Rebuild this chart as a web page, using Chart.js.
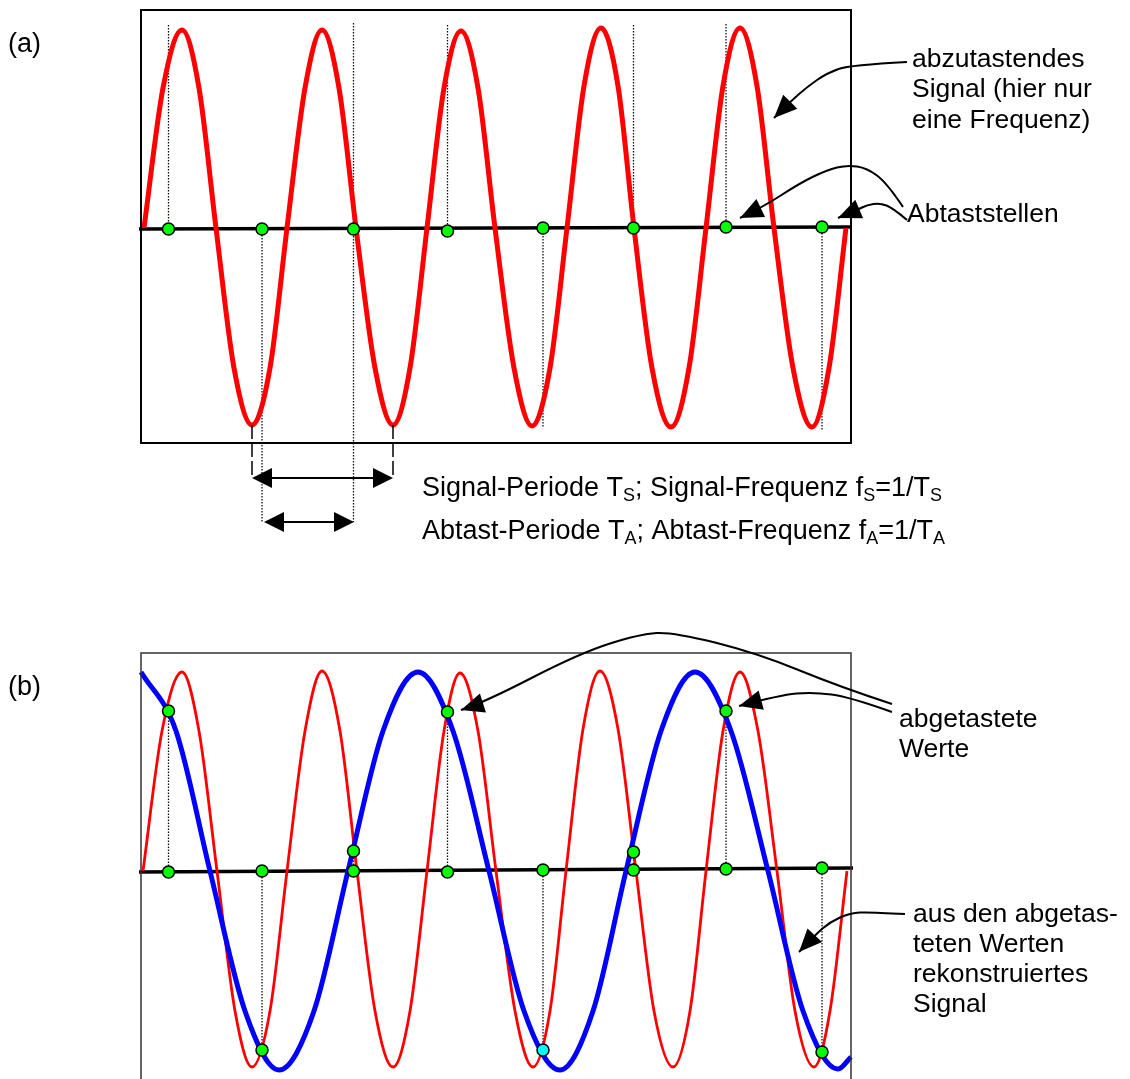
<!DOCTYPE html>
<html><head><meta charset="utf-8">
<script src="https://cdn.jsdelivr.net/npm/chart.js@4/dist/chart.umd.min.js"></script>
<style>
html,body{margin:0;padding:0;background:#fff;overflow:hidden;width:1130px;height:1079px;}
#ca{position:absolute;left:0;top:0;width:1130px;height:600px;}
#cb{position:absolute;left:0;top:600px;width:1130px;height:479px;}
</style></head><body>
<canvas id="ca" width="1130" height="600"></canvas>
<canvas id="cb" width="1130" height="479"></canvas>
<script>
// ---------- data (time in arbitrary units, amplitude normalised) ----------
const sampleTimes   = [27.5, 121, 212.5, 306.5, 402, 492.5, 585, 681];
const sampleAxisA   = [-0.005, -0.005, -0.005, -0.015, 0, 0, 0.005, 0.005];
const sampleAxisB   = [-0.005, 0, 0, -0.005, 0.005, 0.005, 0.01, 0.015];
const sampleValuesB = [0.80, -0.895, 0.10, 0.795, -0.895, 0.095, 0.80, -0.905];

const signalA_t = [3,22,41,58,75,93,111,129,146,164,181,198,215,234,252,269,286,303,320,337,354,373,391,409,426,443,460,477,493,511,530,548,565,582,599,616,633,652,671,688,705];
const signalA_v = [0,0.70,0.99,0.70,0,-0.70,-0.985,-0.70,0,0.70,0.99,0.70,0,-0.70,-0.985,-0.70,0,0.70,0.985,0.70,0,-0.70,-0.99,-0.70,0,0.71,1.0,0.71,0,-0.70,-0.995,-0.70,0,0.71,1.0,0.71,0,-0.70,-0.995,-0.70,0];

const signalB_t = [2,21,41,58,76,94,111,129,146,164,181,199,216,234,252,269,286,303,319,337,355,374,392,409,425,442,459,477,495,513,532,549,565,582,599,617,636,654,673,689,706];
const signalB_v = [0,0.70,0.995,0.70,0,-0.70,-0.98,-0.70,0,0.70,1.0,0.70,0,-0.70,-0.98,-0.70,0,0.70,0.99,0.70,0,-0.70,-0.98,-0.70,0,0.71,1.0,0.71,0,-0.70,-0.98,-0.70,0,0.70,0.995,0.70,0,-0.70,-0.98,-0.70,0];

const reconB_t = [0,35,69,104,138,173,207,242,277,312,348,383,419,452,485,520,554,590,627,662,697,710];
const reconB_v = [0.995,0.70,0,-0.70,-0.995,-0.70,0,0.70,0.995,0.70,0,-0.70,-0.995,-0.70,0,0.70,0.995,0.70,0,-0.70,-0.99,-0.93];

const axisA_t = [-2, 710], axisA_v = [-0.005, 0.005];
const axisB_t = [-2, 712], axisB_v = [-0.005, 0.015];

const dottedTopA = [1.015, -0.005, 1.025, 1.015, -0.01, 1.015, 1.02, 0.005];
const dottedBotA = [-0.005, -1.47, -1.47, -0.015, -0.995, 0, 0.005, -1.01];

// ---------- helpers ----------
const FONT = '"Liberation Sans", Arial, sans-serif';
function P(chart, x, y){ return [chart.scales.x.getPixelForValue(x), chart.scales.y.getPixelForValue(y)]; }
function head(ctx, tip, from, L, W){
  const a = Math.atan2(tip[1]-from[1], tip[0]-from[0]);
  ctx.save(); ctx.translate(tip[0], tip[1]); ctx.rotate(a);
  ctx.beginPath(); ctx.moveTo(0,0); ctx.lineTo(-L,-W); ctx.lineTo(-L,W); ctx.closePath(); ctx.fill();
  ctx.restore();
}
function curveArrow(ctx, pts){
  const n = pts.length;
  ctx.beginPath(); ctx.moveTo(pts[0][0], pts[0][1]);
  for (let i=1;i<n-2;i++){
    ctx.quadraticCurveTo(pts[i][0], pts[i][1], (pts[i][0]+pts[i+1][0])/2, (pts[i][1]+pts[i+1][1])/2);
  }
  ctx.quadraticCurveTo(pts[n-2][0], pts[n-2][1], pts[n-1][0], pts[n-1][1]);
  ctx.stroke();
  head(ctx, pts[n-1], pts[n-2], 23, 10);
}
function richText(ctx, x, y, parts, size, subSize){
  let cx = x;
  for (const [t, sub] of parts){
    ctx.font = (sub ? subSize : size) + 'px ' + FONT;
    ctx.fillText(t, cx, sub ? y + 5 : y);
    cx += ctx.measureText(t).width;
  }
}

// annotations (data coordinates of each panel)
const annA = {
  frameColor: '#000', frameWidth: 2, openBottom: false,
  texts: [
    ['(a)', -133, 0.88, 27],
    ['abzutastendes', 771, 0.805, 26.5],
    ['Signal (hier nur', 771, 0.655, 26.5],
    ['eine Frequenz)', 771, 0.50, 26.5],
    ['Abtaststellen', 766, 0.03, 26.5]
  ],
  curves: [
    [[766,0.83],[709,0.815],[686,0.775],[666,0.705],[649,0.63],[633,0.55]],
    [[762,0.105],[746,0.225],[726,0.30],[706,0.315],[686,0.29],[659,0.225],[622,0.105],[599,0.05]],
    [[766,0.04],[752,0.10],[739,0.125],[726,0.115],[716,0.09],[697,0.05]]
  ],
  rich: [
    [281, -1.34, [['Signal-Periode T',0],['S',1],['; Signal-Frequenz f',0],['S',1],['=1/T',0],['S',1]]],
    [281, -1.555, [['Abtast-Periode T',0],['A',1],['; Abtast-Frequenz f',0],['A',1],['=1/T',0],['A',1]]]
  ],
  dashed: [[111, -0.985, -1.25], [252, -0.985, -1.25]],
  dbl: [[111, 252, -1.25], [123, 213, -1.47]]
};
const annB = {
  frameColor: '#333', frameWidth: 1.5, openBottom: true,
  texts: [
    ['(b)', -133, 0.88, 27],
    ['abgetastete', 758, 0.72, 26.5],
    ['Werte', 758, 0.57, 26.5],
    ['aus den abgetas-', 772, -0.255, 26.5],
    ['teten Werten', 772, -0.405, 26.5],
    ['rekonstruiertes', 772, -0.555, 26.5],
    ['Signal', 772, -0.705, 26.5]
  ],
  curves: [
    [[751,0.835],[699,0.92],[616,1.09],[532,1.195],[499,1.185],[439,1.09],[342,0.84],[320,0.805]],
    [[751,0.795],[709,0.87],[672,0.895],[639,0.88],[598,0.825]],
    [[764,-0.215],[729,-0.205],[709,-0.21],[689,-0.255],[674,-0.32],[658,-0.405]]
  ],
  rich: [], dashed: [], dbl: []
};

function annotPlugin(ann){
  return {
    id: 'annot',
    afterDraw(chart){
      const ctx = chart.ctx, a = chart.chartArea;
      ctx.save();
      ctx.strokeStyle = ann.frameColor; ctx.lineWidth = ann.frameWidth;
      if (ann.openBottom){
        ctx.beginPath();
        ctx.moveTo(a.left, chart.height + 5); ctx.lineTo(a.left, a.top);
        ctx.lineTo(a.right, a.top); ctx.lineTo(a.right, chart.height + 5);
        ctx.stroke();
      } else {
        ctx.strokeRect(a.left, a.top, a.right - a.left, a.bottom - a.top);
      }
      ctx.fillStyle = '#000'; ctx.strokeStyle = '#000';
      ctx.textBaseline = 'alphabetic'; ctx.textAlign = 'left';
      for (const [t, x, y, s] of ann.texts){
        const p = P(chart, x, y); ctx.font = s + 'px ' + FONT; ctx.fillText(t, p[0], p[1]);
      }
      for (const [x, y, parts] of ann.rich){
        const p = P(chart, x, y); richText(ctx, p[0], p[1], parts, 27, 18);
      }
      ctx.lineWidth = 2;
      for (const c of ann.curves){ curveArrow(ctx, c.map(q => P(chart, q[0], q[1]))); }
      ctx.lineWidth = 1.5; ctx.setLineDash([14, 4]);
      for (const [x, y1, y2] of ann.dashed){
        const p1 = P(chart, x, y1), p2 = P(chart, x, y2);
        ctx.beginPath(); ctx.moveTo(p1[0], p1[1]); ctx.lineTo(p2[0], p2[1]); ctx.stroke();
      }
      ctx.setLineDash([]); ctx.lineWidth = 2;
      for (const [x1, x2, y] of ann.dbl){
        const p1 = P(chart, x1, y), p2 = P(chart, x2, y);
        ctx.beginPath(); ctx.moveTo(p1[0] + 10, p1[1]); ctx.lineTo(p2[0] - 10, p2[1]); ctx.stroke();
        head(ctx, p1, p2, 20, 10); head(ctx, p2, p1, 20, 10);
      }
      ctx.restore();
    }
  };
}

function series(ts, vs){ return ts.map((t, i) => ({x: t, y: vs[i]})); }
function lineDs(data, color, width, order, extra){
  return Object.assign({data, borderColor: color, borderWidth: width, pointRadius: 0, showLine: true,
    fill: false, order, clip: false}, extra || {});
}
function dottedSets(tops, bots){
  return sampleTimes.map((t, i) => lineDs([{x: t, y: tops[i]}, {x: t, y: bots[i]}], '#111', 1.3, 3, {borderDash: [1.5, 1.5]}));
}
function opts(pad, ymin){
  return {
    responsive: false, maintainAspectRatio: false, animation: false, devicePixelRatio: 1,
    layout: {padding: pad},
    plugins: {legend: {display: false}, tooltip: {enabled: false}},
    scales: {
      x: {type: 'linear', min: 0, max: 710, display: false},
      y: {type: 'linear', min: ymin, max: 1.09, display: false}
    }
  };
}

// ---------- panel (a) ----------
new Chart(document.getElementById('ca'), {
  type: 'scatter',
  data: {datasets: [
    {data: series(sampleTimes, sampleAxisA), pointRadius: 6, pointBackgroundColor: '#00ff00',
     pointBorderColor: '#000', pointBorderWidth: 1.5, showLine: false, order: 0, clip: false},
    lineDs(series(signalA_t, signalA_v), '#ff0000', 5, 2, {cubicInterpolationMode: 'monotone'}),
    ...dottedSets(dottedTopA, dottedBotA),
    lineDs(series(axisA_t, axisA_v), '#000', 3.5, 4)
  ]},
  options: opts({left: 141, right: 279, top: 10, bottom: 157}, -1.075),
  plugins: [annotPlugin(annA)]
});

// ---------- panel (b) (lower edge of the frame is cut off by the page) ----------
const dotsB = series(sampleTimes, sampleAxisB).concat(series(sampleTimes, sampleValuesB));
const dotColorsB = dotsB.map((d, i) => (i === 12 ? '#00ffff' : '#00ff00'));
new Chart(document.getElementById('cb'), {
  type: 'scatter',
  data: {datasets: [
    {data: dotsB, pointRadius: 6, pointBackgroundColor: dotColorsB,
     pointBorderColor: '#000', pointBorderWidth: 1.5, showLine: false, order: 0, clip: false},
    lineDs(series(reconB_t, reconB_v), '#0000ff', 5, 1, {cubicInterpolationMode: 'monotone'}),
    lineDs(series(signalB_t, signalB_v), '#ff0000', 2.8, 2, {cubicInterpolationMode: 'monotone'}),
    ...dottedSets(sampleAxisB, sampleValuesB),
    lineDs(series(axisB_t, axisB_v), '#000', 3.5, 4)
  ]},
  options: opts({left: 141, right: 279, top: 53, bottom: 20}, -0.94),
  plugins: [annotPlugin(annB)]
});
</script>
</body></html>
